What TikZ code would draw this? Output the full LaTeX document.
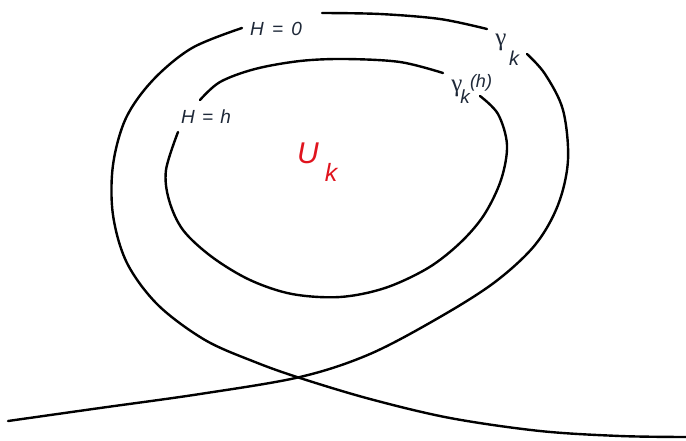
\documentclass[tikz,border=0pt]{standalone}
\usepackage{fontspec}
\setmainfont{Liberation Sans}
\newfontfamily\gfont{Liberation Serif}
\definecolor{labelcol}{HTML}{1E2838}
\definecolor{ucol}{HTML}{E0141E}
\begin{document}
\begin{tikzpicture}[x=1pt,y=-1pt,
  curve/.style={line width=2.4pt, line cap=round, line join=round},
  lbl/.style={font=\fontsize{19}{20}\selectfont\itshape, text=labelcol, inner sep=0pt},
  glbl/.style={font=\gfont\fontsize{25}{26}\selectfont, text=labelcol, inner sep=0pt},
  ulbl/.style={font=\fontsize{30}{34}\selectfont\itshape, text=ucol, inner sep=0pt}]
\useasboundingbox (0,0) rectangle (686,440);
% outer curve H = 0
\draw[curve] plot[smooth, tension=0.55] coordinates {(242,28) (192,48) (153,80) (126,118) (113,165) (113,215) (127,263) (158,305) (205,340) (255,362) (300,378) (370,399) (450,418) (540,431) (620,436) (686,437)};
\draw[curve] plot[smooth, tension=0.55] coordinates {(8,421) (100,408) (200,394) (300,377) (370,354) (440,317) (495,282) (535,245) (558,205) (568,160) (563,110) (545,74) (527,54)};
\draw[curve] plot[smooth, tension=0.55] coordinates {(322,13) (380,14) (440,19) (487,29)};
% inner curve H = h
\draw[curve] plot[smooth, tension=0.55] coordinates {(200,100) (220,82) (255,69) (300,61) (345,59) (400,62) (443,73)};
\draw[curve] plot[smooth, tension=0.55] coordinates {(480,96) (498,114) (507,145) (501,180) (484,215) (460,243) (428,268) (385,288) (340,297) (292,294) (250,280) (212,257) (183,230) (169,200) (166,170) (178,132)};
% labels
\node[lbl] (h0) at (276,29) {H\hspace{3pt} =\hspace{3pt} 0};
\node[lbl] (hh) at (206,117) {H\hspace{2pt} =\hspace{2pt} h};
\node[glbl] (g1) at (501,42) {γ};
\node[lbl, font=\fontsize{20}{20}\selectfont\itshape] (k1) at (514,58) {k};
\node[glbl] (g2) at (457,88) {γ};
\node[lbl, font=\fontsize{19}{20}\selectfont\itshape] (k2) at (465,97) {k};
\node[lbl, font=\fontsize{18}{18}\selectfont\itshape] (hp) at (481,83) {(h)};
\node[ulbl] (u) at (308,153) {U};
\node[ulbl, font=\fontsize{25}{28}\selectfont\itshape] (uk) at (331,172) {k};
\end{tikzpicture}
\end{document}
